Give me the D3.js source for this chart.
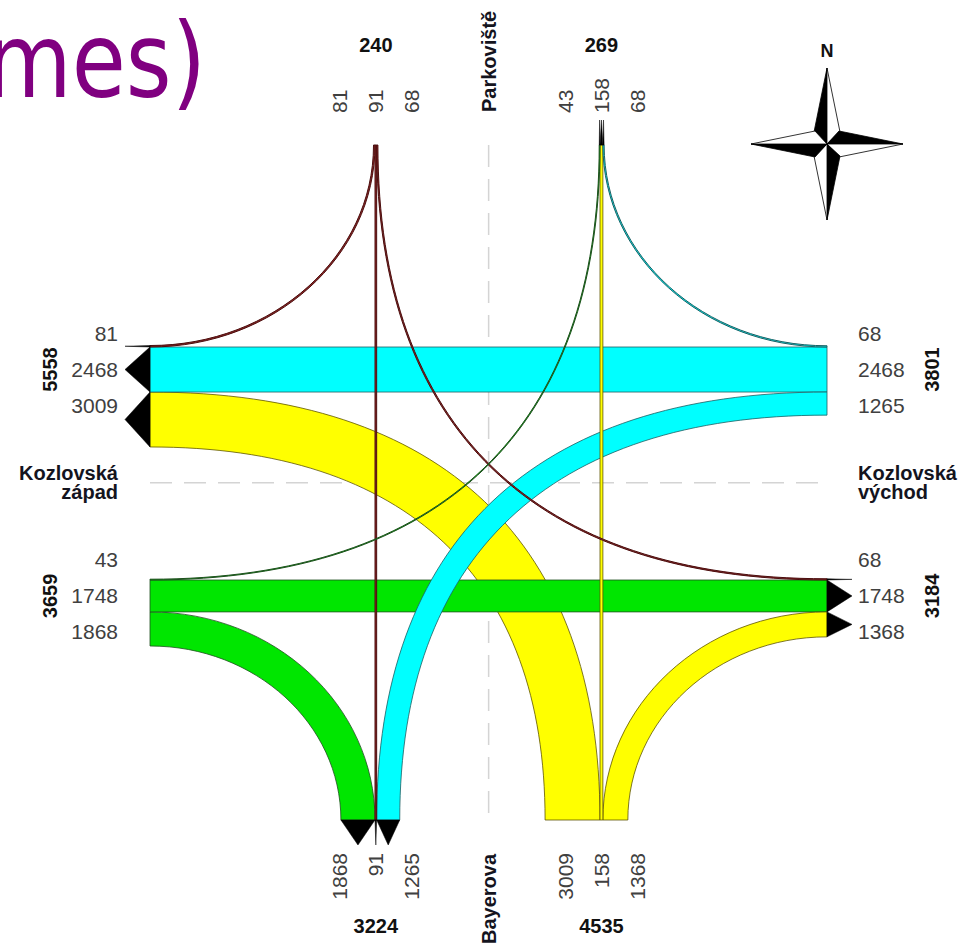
<!DOCTYPE html>
<html>
<head>
<meta charset="utf-8">
<script src="https://cdn.jsdelivr.net/npm/d3@7"></script>
<style>
  body { margin: 0; background: #fff; overflow: hidden; }
  text { font-family: "Liberation Sans", Arial, sans-serif; }
</style>
</head>
<body>
<script>
// arms of the junction, clockwise from north
const arms = ["N", "E", "S", "W"];
const armColor  = ["#8b2525", "#00ffff", "#ffff00", "#00e600"];
const armStroke = ["#4a0e0e", "#1d5e62", "#5e5400", "#1f4f1f"];

// turning volumes (vehicles), one entry per movement
const flowFrom  = ["N", "N", "N", "E", "E", "E", "S", "S", "S", "W", "W", "W"];
const flowTo    = ["W", "S", "E", "N", "W", "S", "W", "N", "E", "N", "E", "S"];
const flowValue = [81, 91, 68, 68, 2468, 1265, 3009, 158, 1368, 43, 1748, 1868];

// street names
const nameNorth = ["Parkoviště"];
const nameSouth = ["Bayerova"];
const nameWest  = ["Kozlovská", "západ"];
const nameEast  = ["Kozlovská", "východ"];

const titleText = "mes)";

var width = 966, height = 947;

var svg = d3.select("body").append("svg")
  .attr("width", width)
  .attr("height", height);

// frame of the junction and the lines where the straight movements run
var frame = {left: 150, right: 827, top: 145, bottom: 820};
var anchors = {
  N: {out: 375, in: 600},
  S: {in: 375, out: 600},
  E: {out: 347, in: 580},
  W: {in: 347, out: 580}
};
var arrowLen = 25, labelGap = 36;

var thick = d3.scaleLinear().domain([0, 1000]).range([0, 18.25]);

var flows = flowValue.map(function(v, i) {
  return {from: flowFrom[i], to: flowTo[i], value: v};
});

function idx(a) { return arms.indexOf(a); }
function opposite(a) { return arms[(idx(a) + 2) % 4]; }
function isVert(a) { return a === "W" || a === "E"; } // edge is a vertical line
function lowSide(a) { return isVert(a) ? "N" : "W"; }

function pt(arm, pos) {
  if (arm === "W") return [frame.left, pos];
  if (arm === "E") return [frame.right, pos];
  if (arm === "N") return [pos, frame.top];
  return [pos, frame.bottom];
}

// place every movement in the "out" stack of its origin and the "in" stack of its destination
function stack(arm, dir) {
  var key = dir === "out" ? "seg0" : "seg1";
  var partner = function(f) { return dir === "out" ? f.to : f.from; };
  var fs = flows.filter(function(f) { return dir === "out" ? f.from === arm : f.to === arm; });
  var straight = fs.find(function(f) { return partner(f) === opposite(arm); });
  var a = anchors[arm][dir];
  var ws = thick(straight.value);
  fs.forEach(function(f) {
    var p = partner(f), t = thick(f.value), s0;
    if (p === opposite(arm)) s0 = a;
    else if (p === lowSide(arm)) s0 = a - t;
    else s0 = a + ws;
    f[key] = [s0, s0 + t];
  });
  fs.sort(function(x, y) { return x[key][0] - y[key][0]; });
  return {arm: arm, dir: dir, flows: fs, center: a + ws / 2,
          total: d3.sum(fs, function(f) { return f.value; })};
}

var stacks = [];
arms.forEach(function(a) {
  stacks.push(stack(a, "out"));
  stacks.push(stack(a, "in"));
});

function bandPath(f) {
  var a0 = pt(f.from, f.seg0[0]), a1 = pt(f.from, f.seg0[1]);
  var b0 = pt(f.to, f.seg1[0]), b1 = pt(f.to, f.seg1[1]);
  var p = d3.path();
  var turn = (idx(f.to) - idx(f.from) + 4) % 4;
  if (turn === 2) {
    p.moveTo(a0[0], a0[1]); p.lineTo(b0[0], b0[1]);
    p.lineTo(b1[0], b1[1]); p.lineTo(a1[0], a1[1]);
    p.closePath();
    return p.toString();
  }
  var k = turn === 1 ? 0.65 : 0.552; // long (left) turns are squarer
  var vEdge = isVert(f.from) ? f.from : f.to;
  var hEdge = isVert(f.from) ? f.to : f.from;
  var corner = [vEdge === "W" ? frame.left : frame.right, hEdge === "N" ? frame.top : frame.bottom];
  var dist = function(q) { return Math.hypot(q[0] - corner[0], q[1] - corner[1]); };
  var aN = dist(a0) < dist(a1) ? a0 : a1, aF = aN === a0 ? a1 : a0;
  var bN = dist(b0) < dist(b1) ? b0 : b1, bF = bN === b0 ? b1 : b0;
  function ctrl(s, e) {
    var el = isVert(f.from) ? [e[0], s[1]] : [s[0], e[1]];
    return [[s[0] + k * (el[0] - s[0]), s[1] + k * (el[1] - s[1])],
            [e[0] + k * (el[0] - e[0]), e[1] + k * (el[1] - e[1])]];
  }
  var c = ctrl(aN, bN);
  p.moveTo(aN[0], aN[1]);
  p.bezierCurveTo(c[0][0], c[0][1], c[1][0], c[1][1], bN[0], bN[1]);
  p.lineTo(bF[0], bF[1]);
  var d = ctrl(aF, bF);
  p.bezierCurveTo(d[1][0], d[1][1], d[0][0], d[0][1], aF[0], aF[1]);
  p.closePath();
  return p.toString();
}

var normals = {W: [-1, 0], E: [1, 0], N: [0, -1], S: [0, 1]};

function arrowPath(f) {
  var b0 = pt(f.to, f.seg1[0]), b1 = pt(f.to, f.seg1[1]);
  var n = normals[f.to];
  var m = [(b0[0] + b1[0]) / 2 + n[0] * arrowLen, (b0[1] + b1[1]) / 2 + n[1] * arrowLen];
  return "M" + b0 + "L" + m + "L" + b1 + "Z";
}

// centre lines
var sN = stacks.find(function(s) { return s.arm === "N" && s.dir === "out"; });
var sNin = stacks.find(function(s) { return s.arm === "N" && s.dir === "in"; });
var sW = stacks.find(function(s) { return s.arm === "W" && s.dir === "in"; });
var sWout = stacks.find(function(s) { return s.arm === "W" && s.dir === "out"; });
var xMid = (sN.center + sNin.center) / 2;
var yMid = (sW.center + sWout.center) / 2;

svg.append("line")
  .attr("x1", xMid).attr("x2", xMid).attr("y1", frame.top).attr("y2", frame.bottom)
  .attr("stroke", "#d4d4d4").attr("stroke-width", 1.5).attr("stroke-dasharray", "22,12");
svg.append("line")
  .attr("x1", frame.left).attr("x2", frame.right).attr("y1", yMid).attr("y2", yMid)
  .attr("stroke", "#d4d4d4").attr("stroke-width", 1.5).attr("stroke-dasharray", "22,12");

// bands, widest first so thin ones stay visible
var sorted = flows.slice().sort(function(a, b) { return b.value - a.value; });

svg.append("g").selectAll("path")
  .data(sorted)
  .enter().append("path")
    .attr("d", bandPath)
    .attr("fill", function(d) { return armColor[idx(d.from)]; })
    .attr("stroke", function(d) { return armStroke[idx(d.from)]; })
    .attr("stroke-width", function(d) { return d.value < 100 ? 1 : 0.8; });

svg.append("g").selectAll("path")
  .data(flows)
  .enter().append("path")
    .attr("d", arrowPath)
    .attr("fill", "#000")
    .attr("stroke", "#000")
    .attr("stroke-width", 0.5);

// labels
var valueFont = 21, totalFont = 20, nameFont = 20;
var labels = svg.append("g");

stacks.forEach(function(s) {
  s.flows.forEach(function(f, i) {
    var pos = s.center + (i - 1) * labelGap;
    var t = labels.append("text").text(f.value)
      .attr("font-size", valueFont).attr("fill", "#404040").attr("dy", "0.35em");
    if (s.arm === "W") t.attr("x", 118).attr("y", pos).attr("text-anchor", "end");
    else if (s.arm === "E") t.attr("x", 858).attr("y", pos).attr("text-anchor", "start");
    else if (s.arm === "N") t.attr("transform", "translate(" + pos + ",113) rotate(-90)").attr("text-anchor", "start");
    else t.attr("transform", "translate(" + pos + ",853) rotate(-90)").attr("text-anchor", "end");
  });
  var tt = labels.append("text").text(s.total)
    .attr("font-size", totalFont).attr("font-weight", "bold").attr("fill", "#111")
    .attr("text-anchor", "middle");
  if (s.arm === "W") tt.attr("transform", "translate(50," + s.center + ") rotate(-90)").attr("dy", "0.35em");
  else if (s.arm === "E") tt.attr("transform", "translate(932," + s.center + ") rotate(-90)").attr("dy", "0.35em");
  else if (s.arm === "N") tt.attr("x", s.center).attr("y", 52);
  else tt.attr("x", s.center).attr("y", 933);
});

function nameText(lines, x, y, anchor, rotate) {
  lines.forEach(function(l, i) {
    var t = labels.append("text").text(l)
      .attr("font-size", nameFont).attr("font-weight", "bold").attr("fill", "#14141e")
      .attr("text-anchor", anchor);
    if (rotate) t.attr("transform", "translate(" + x + "," + y + ") rotate(-90)").attr("dy", "0.35em");
    else t.attr("x", x).attr("y", y + i * 19);
  });
}
nameText(nameNorth, xMid, 112, "start", true);
nameText(nameSouth, xMid, 944, "start", true);
nameText(nameWest, 118, yMid - 3, "end", false);
nameText(nameEast, 858, yMid - 3, "start", false);

// north arrow
var compass = svg.append("g").attr("transform", "translate(827,144)");
[0, 90, 180, 270].forEach(function(r) {
  var g = compass.append("g").attr("transform", "rotate(" + r + ")");
  g.append("path").attr("d", "M0,-76L-13,-12L0,0Z").attr("fill", "#000").attr("stroke", "#000").attr("stroke-width", 0.8);
  g.append("path").attr("d", "M0,-76L13,-12L0,0Z").attr("fill", "#fff").attr("stroke", "#000").attr("stroke-width", 0.8);
});
svg.append("text").text("N")
  .attr("x", 827).attr("y", 57).attr("text-anchor", "middle")
  .attr("font-size", 18).attr("font-weight", "bold").attr("fill", "#111");

// cut-off slide title
svg.append("text").text(titleText)
  .attr("x", -14).attr("y", 97)
  .attr("font-size", 104)
  .attr("fill", "#800080")
  .attr("textLength", 220)
  .attr("lengthAdjust", "spacingAndGlyphs")
  .style("font-family", "'DejaVu Sans', Verdana, sans-serif");
</script>
</body>
</html>
